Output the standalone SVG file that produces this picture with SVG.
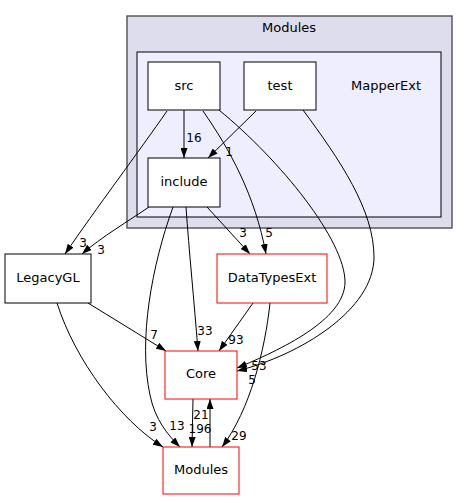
<svg xmlns="http://www.w3.org/2000/svg" width="468" height="500" viewBox="0 0 468 500">
<style>
text{font-family:"DejaVu Sans",sans-serif;fill:#000}
.nl{font-size:13px;text-anchor:middle}
.el{font-size:12px;text-anchor:middle}
.n{fill:#fff;stroke:#000;stroke-width:1}
.r{fill:#fff;stroke:#ff0000;stroke-width:1}
.e{fill:none;stroke:#000;stroke-width:1;marker-end:url(#a)}
</style>
<defs>
<marker id="a" viewBox="0 0 10 7" refX="10" refY="3.5" markerWidth="10" markerHeight="7" markerUnits="userSpaceOnUse" orient="auto">
<path d="M0,0 L10,3.5 L0,7 z" fill="#000"/>
</marker>
</defs>
<rect width="468" height="500" fill="#fff"/>
<g id="cluster_Modules">
<rect x="127" y="16" width="325" height="212" fill="#ddddee" stroke="#444" stroke-width="1.3"/>
<text class="nl" x="289" y="32">Modules</text>
</g>
<g id="cluster_MapperExt">
<rect x="137" y="52" width="304" height="165" fill="#eeeeff" stroke="#000"/>
<text class="nl" x="386" y="90">MapperExt</text>
</g>
<g id="edges">
<path class="e" d="M184,110 L184,158"/>
<path class="e" d="M256,111 L208,158"/>
<path class="e" d="M167,111 C140,150 95,210 65,254"/>
<path class="e" d="M149,207 C130,220 100,238 82,254"/>
<path class="e" d="M186,207 C189,250 194,300 198,351"/>
<path class="e" d="M173,207 C152,265 138,340 150,395 C155,420 168,435 180,447"/>
<path class="e" d="M207,207 L250,254"/>
<path class="e" d="M203,111 C230,150 255,195 266,254"/>
<path class="e" d="M219,110 C280,160 345,240 345,282 C345,320 280,350 237,368"/>
<path class="e" d="M303,110 C340,160 374,210 374,257 C374,310 300,355 237,371"/>
<path class="e" d="M253,303 L219,351"/>
<path class="e" d="M270,303 C265,350 250,410 222,447"/>
<path class="e" d="M88,303 L166,351"/>
<path class="e" d="M57,303 C75,360 120,420 163,447"/>
<path class="e" d="M193,399 L192,447"/>
<path class="e" d="M210,447 L210,399"/>
<text class="el" x="194" y="142">16</text>
<text class="el" x="229" y="156">1</text>
<text class="el" x="83" y="247">3</text>
<text class="el" x="101" y="254">3</text>
<text class="el" x="205" y="335">33</text>
<text class="el" x="177" y="430">13</text>
<text class="el" x="243" y="237">3</text>
<text class="el" x="269" y="237">5</text>
<text class="el" x="259" y="370">53</text>
<text class="el" x="252" y="384">5</text>
<text class="el" x="236" y="344">93</text>
<text class="el" x="239" y="440">29</text>
<text class="el" x="154" y="339">7</text>
<text class="el" x="153" y="431">3</text>
<text class="el" x="200" y="433">196</text>
<text class="el" x="201" y="419">21</text>
</g>
<g id="node_src">
<rect class="n" x="148" y="62" width="72" height="48"/>
<text class="nl" x="184" y="90">src</text>
</g>
<g id="node_test">
<rect class="n" x="244" y="62" width="72" height="48"/>
<text class="nl" x="280" y="90">test</text>
</g>
<g id="node_include">
<rect class="n" x="148" y="158" width="72" height="49"/>
<text class="nl" x="184" y="186">include</text>
</g>
<g id="node_LegacyGL">
<rect class="n" x="5" y="254" width="86" height="49"/>
<text class="nl" x="48" y="282">LegacyGL</text>
</g>
<g id="node_DataTypesExt">
<rect class="r" x="217" y="254" width="110" height="49"/>
<text class="nl" x="272" y="282">DataTypesExt</text>
</g>
<g id="node_Core">
<rect class="r" x="165" y="351" width="72" height="48"/>
<text class="nl" x="201" y="378">Core</text>
</g>
<g id="node_Modules">
<rect class="r" x="163" y="447" width="76" height="47"/>
<text class="nl" x="201" y="474">Modules</text>
</g>
</svg>
